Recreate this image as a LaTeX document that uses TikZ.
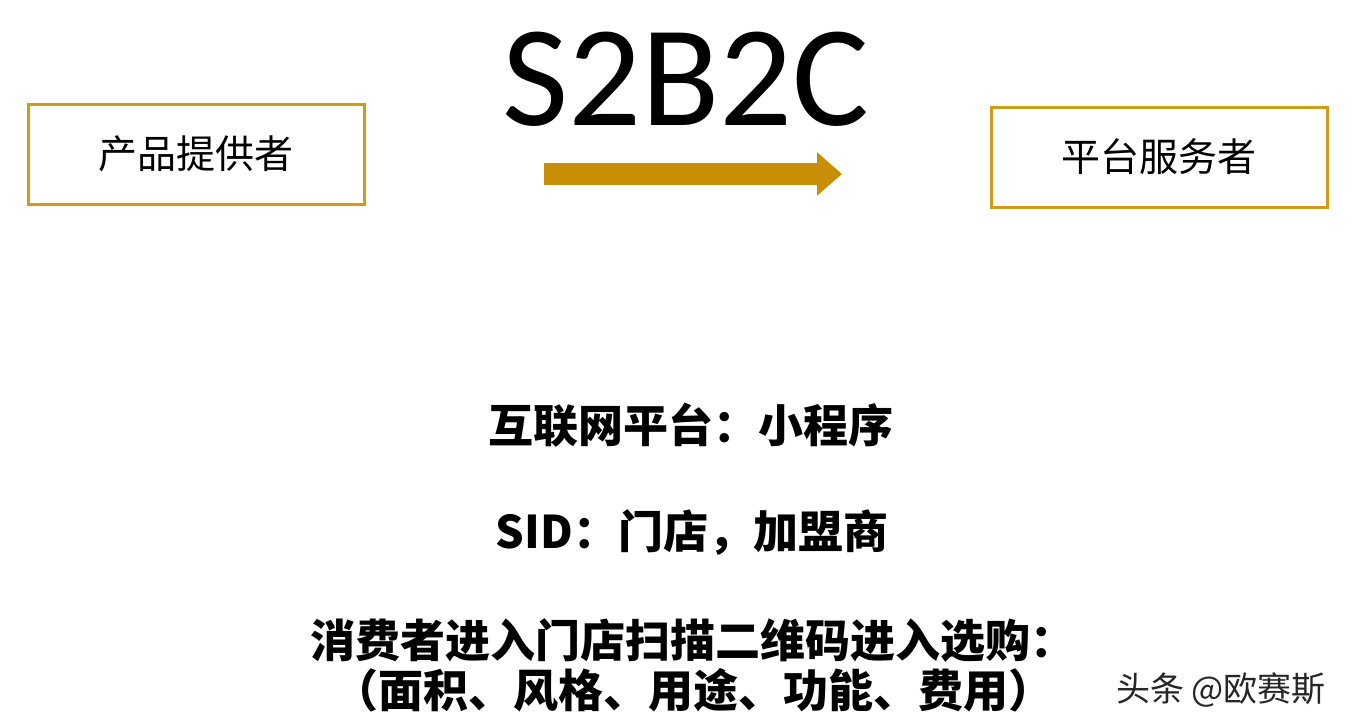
\documentclass[tikz,border=0pt]{standalone}
\usepackage{fontspec}
\setmainfont{Carlito}
\newfontfamily\cjk{Noto Sans CJK SC}
\usetikzlibrary{arrows.meta}
\definecolor{boxgold}{RGB}{206,156,22}
\definecolor{arrowgold}{RGB}{200,142,5}
\tikzset{
  rolebox/.style={draw=boxgold, line width=3pt, minimum width=336pt, minimum height=100pt,
    font=\cjk\fontsize{39}{41}\selectfont},
  infotext/.style={font=\cjk\bfseries\fontsize{45}{50}\selectfont, align=center},
}
\begin{document}
\begin{tikzpicture}[x=1pt, y=-1pt]
        \useasboundingbox[fill=white] (0,0) rectangle (1352,728);

        % Title
        \node[font=\fontsize{144}{146}\selectfont, anchor=base] (title) at (686,125) {S2B2C};

        % Roles
        \node[rolebox] (provider) at (196,154) {产品提供者};
        \node[rolebox] (platform) at (1159,157) {平台服务者};

        % Arrow
        \coordinate (arrowstart) at (544,174);
        \coordinate (arrowend) at (842,174);
        \draw[arrowgold, line width=22pt, -{Triangle[length=25pt, width=42pt]}] (arrowstart) -- (arrowend);

        % Details
        \node[infotext] (internet) at (691,425) {互联网平台：小程序};
        \node[infotext] (sid) at (692,533) {SID：门店，加盟商};
        \node[infotext] (consumer) at (693,665) {消费者进入门店扫描二维码进入选购：\\（面积、风格、用途、功能、费用）};

        % Watermark
        \node[font=\cjk\fontsize{34}{36}\selectfont, text=black!85] (mark) at (1221,690) {头条 @欧赛斯};
    \end{tikzpicture}
\end{document}
